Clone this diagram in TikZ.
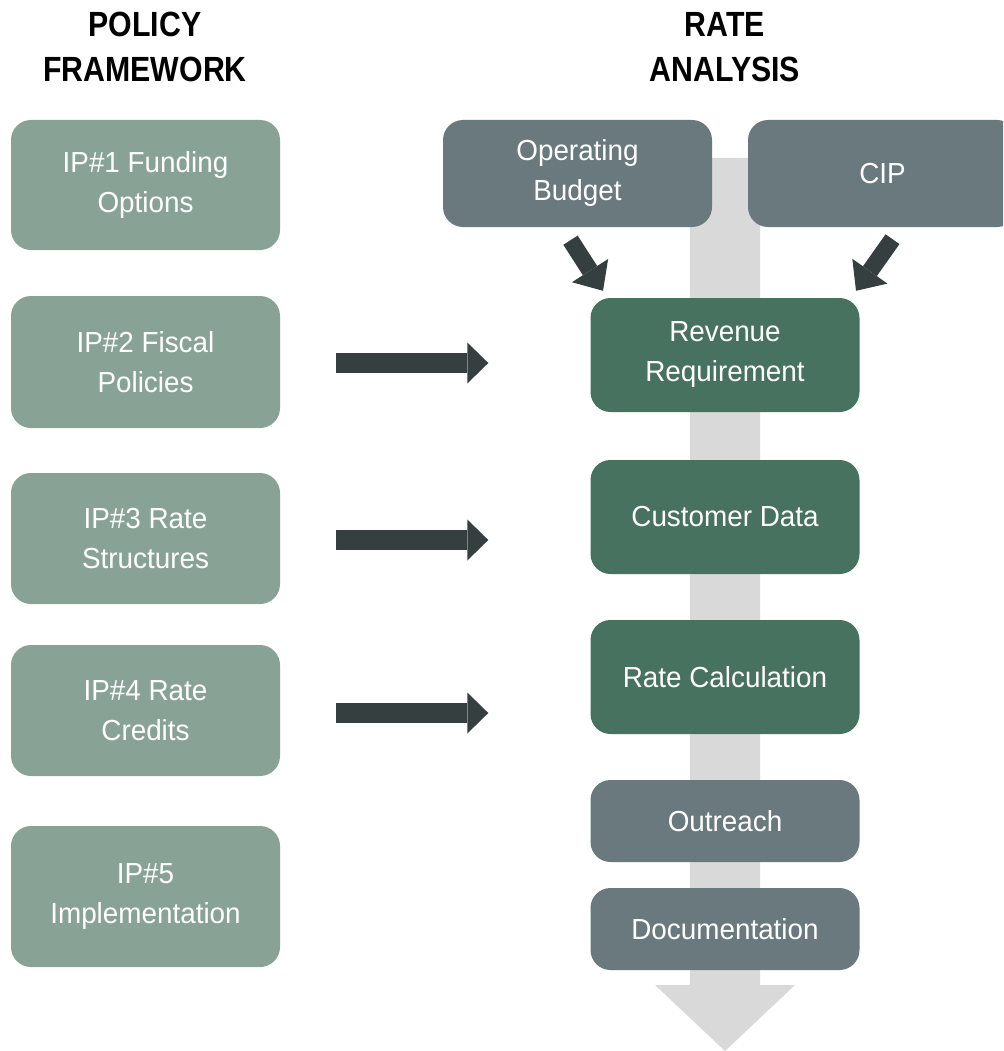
\documentclass[tikz,border=0pt]{standalone}
\usepackage{fontspec}
\setmainfont[FakeStretch=0.96]{Liberation Sans}
\newfontfamily\titlefont[FakeStretch=0.865]{Liberation Sans}
\usetikzlibrary{arrows.meta,calc}
\definecolor{polgreen}{HTML}{88A395}
\definecolor{darkgreen}{HTML}{47725F}
\definecolor{slategray}{HTML}{6A797D}
\definecolor{arrowdark}{HTML}{363F40}
\definecolor{bandgray}{HTML}{D9D9D9}
\begin{document}
\begin{tikzpicture}[x=1pt,y=-1pt,
  box/.style={rounded corners=20pt, text=white, align=center, inner sep=0pt,
    font=\fontsize{29}{40}\selectfont, minimum width=269pt},
  polbox/.style={box, fill=polgreen},
  revbox/.style={box, fill=darkgreen},
  graybox/.style={box, fill=slategray},
  titletext/.style={align=center, inner sep=0pt, anchor=north,
    font=\titlefont\bfseries\fontsize{35}{45}\selectfont},
  blockarrow/.style={draw=arrowdark, line width=20pt,
    -{Triangle[length=21pt,width=41pt,line width=0pt]}, arrowdark},
  diagarrow/.style={draw=arrowdark, line width=17pt,
    -{Triangle[length=24pt,width=43pt,line width=0pt]}, arrowdark}
]
\clip (0,0) rectangle (1003,1051);
\fill[white] (0,0) rectangle (1003,1051);

% flow band
\fill[bandgray] (690,158) -- (760,158) -- (760,985) -- (795,985) -- (725,1051)
  -- (655,985) -- (690,985) -- cycle;

% titles
\node[titletext] (poltitle) at (145,12) {POLICY\\FRAMEWORK};
\node[titletext] (ratetitle) at (725,12) {RATE\\ANALYSIS};

% policy boxes
\node[polbox, minimum height=130pt] (ip1) at (145.5,185) {IP\#1 Funding\\Options};
\node[polbox, minimum height=132pt] (ip2) at (145.5,362) {IP\#2 Fiscal\\Policies};
\node[polbox, minimum height=131pt] (ip3) at (145.5,538.5) {IP\#3 Rate\\Structures};
\node[polbox, minimum height=131pt] (ip4) at (145.5,710.5) {IP\#4 Rate\\Credits};
\node[polbox, minimum height=141pt] (ip5) at (145.5,896.5) {IP\#5\\Implementation};

% rate analysis boxes
\node[graybox, minimum height=107pt] (ob) at (577.5,173.5) {Operating\\Budget};
\node[graybox, minimum height=107pt] (cip) at (882.5,173.5) {CIP};
\node[revbox, minimum height=114pt] (rev) at (725,355) {Revenue\\Requirement};
\node[revbox, minimum height=114pt] (cust) at (725,517) {Customer Data};
\node[revbox, minimum height=114pt] (rate) at (725,677) {Rate Calculation};
\node[graybox, minimum height=82pt] (out) at (725,821) {Outreach};
\node[graybox, minimum height=82pt] (doc) at (725,929) {Documentation};

% horizontal arrows
\draw[blockarrow] ($(ip2.east)+(56,1)$) -- ($(rev.west |- ip2.east)+(-102,1)$);
\draw[blockarrow] ($(ip3.east)+(56,1.5)$) -- ($(cust.west |- ip3.east)+(-102,1.5)$);
\draw[blockarrow] ($(ip4.east)+(56,2.5)$) -- ($(rate.west |- ip4.east)+(-102,2.5)$);

% diagonal arrows
\draw[diagarrow] ($(ob.south)+(-7,13)$) -- ($(rev.north)+(-122,-7)$);
\draw[diagarrow] ($(cip.south)+(10,12)$) -- ($(rev.north)+(131,-7)$);
\end{tikzpicture}
\end{document}
